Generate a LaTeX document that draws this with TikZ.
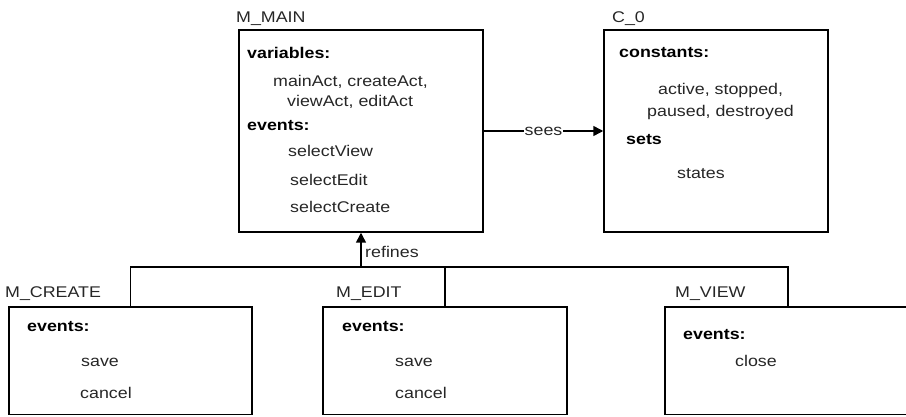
\documentclass[tikz,border=0pt]{standalone}
\usepackage{fontspec}
\setmainfont{Liberation Sans}[FakeStretch=1.15]
\usetikzlibrary{arrows.meta}

\begin{document}
\begin{tikzpicture}[x=1pt,y=-1pt]
% y is flipped so that coordinates read like screen pixels

% style
\tikzset{
    every node/.style={font=\fontsize{15.5}{18}\selectfont, text=black!85, inner sep=0pt},
    baseLine/.style={draw, line width=1.5pt},
    arrowLine/.style={baseLine, -{Triangle[length=10pt, width=10pt]}},
    modBox/.style={draw, line width=1.5pt, rectangle, inner sep=0pt},
    txt/.style={anchor=base west},
    hd/.style={txt, font=\fontsize{15.5}{18}\selectfont\bfseries, text=black}
}

\clip (0,0) rectangle (906,417);

% modules
\foreach \n/\x/\y/\w/\h in {
    main/361/131/244/202,
    ctx/716/131/224/202,
    create/130.5/360.75/243/107.5,
    edit/445/360.75/244/107.5,
    view/788/360.75/246/107.5
} {
    \node[modBox, minimum width=\w pt, minimum height=\h pt] (\n) at (\x,\y) {};
}

% module names
\node[txt] (mainLbl)   at (236, 23) {M\_MAIN};
\node[txt] (ctxLbl)    at (612, 23) {C\_0};
\node[txt] (createLbl) at (  5,298) {M\_CREATE};
\node[txt] (editLbl)   at (336,298) {M\_EDIT};
\node[txt] (viewLbl)   at (675,298) {M\_VIEW};

% M_MAIN contents
\node[hd]  (mainVarHd) at (247, 59) {variables:};
\node[txt] (mainVarA)  at (273, 87) {mainAct, createAct,};
\node[txt] (mainVarB)  at (287,107) {viewAct, editAct};
\node[hd]  (mainEvHd)  at (247,131) {events:};
\node[txt] (mainEvA)   at (288,157) {selectView};
\node[txt] (mainEvB)   at (290,186) {selectEdit};
\node[txt] (mainEvC)   at (290,213) {selectCreate};

% C_0 contents
\node[hd]  (ctxConHd) at (619, 58) {constants:};
\node[txt] (ctxConA)  at (658, 95) {active, stopped,};
\node[txt] (ctxConB)  at (647,117) {paused, destroyed};
\node[hd]  (ctxSetHd) at (626,145) {sets};
\node[txt] (ctxSetA)  at (677,179) {states};

% refinements contents
\node[hd]  (createEvHd) at ( 27,331) {events:};
\node[txt] (createEvA)  at ( 81,366) {save};
\node[txt] (createEvB)  at ( 80,398) {cancel};
\node[hd]  (editEvHd)   at (342,331) {events:};
\node[txt] (editEvA)    at (395,366) {save};
\node[txt] (editEvB)    at (395,398) {cancel};
\node[hd]  (viewEvHd)   at (683,339) {events:};
\node[txt] (viewEvA)    at (735,366) {close};

% sees
\draw[arrowLine] (main.east) -- node[fill=white, inner xsep=1pt] (seesLbl) {sees} (ctx.west);

% refines
\coordinate (join) at (main.south |- 0,267);
\draw[baseLine] (create.north) |- (join) -| (view.north);
\draw[baseLine] (edit.north) -- (edit.north |- join);
\draw[arrowLine] (join) -- (main.south);
\node[txt] (refLbl) at (365,258) {refines};

\end{tikzpicture}
\end{document}
